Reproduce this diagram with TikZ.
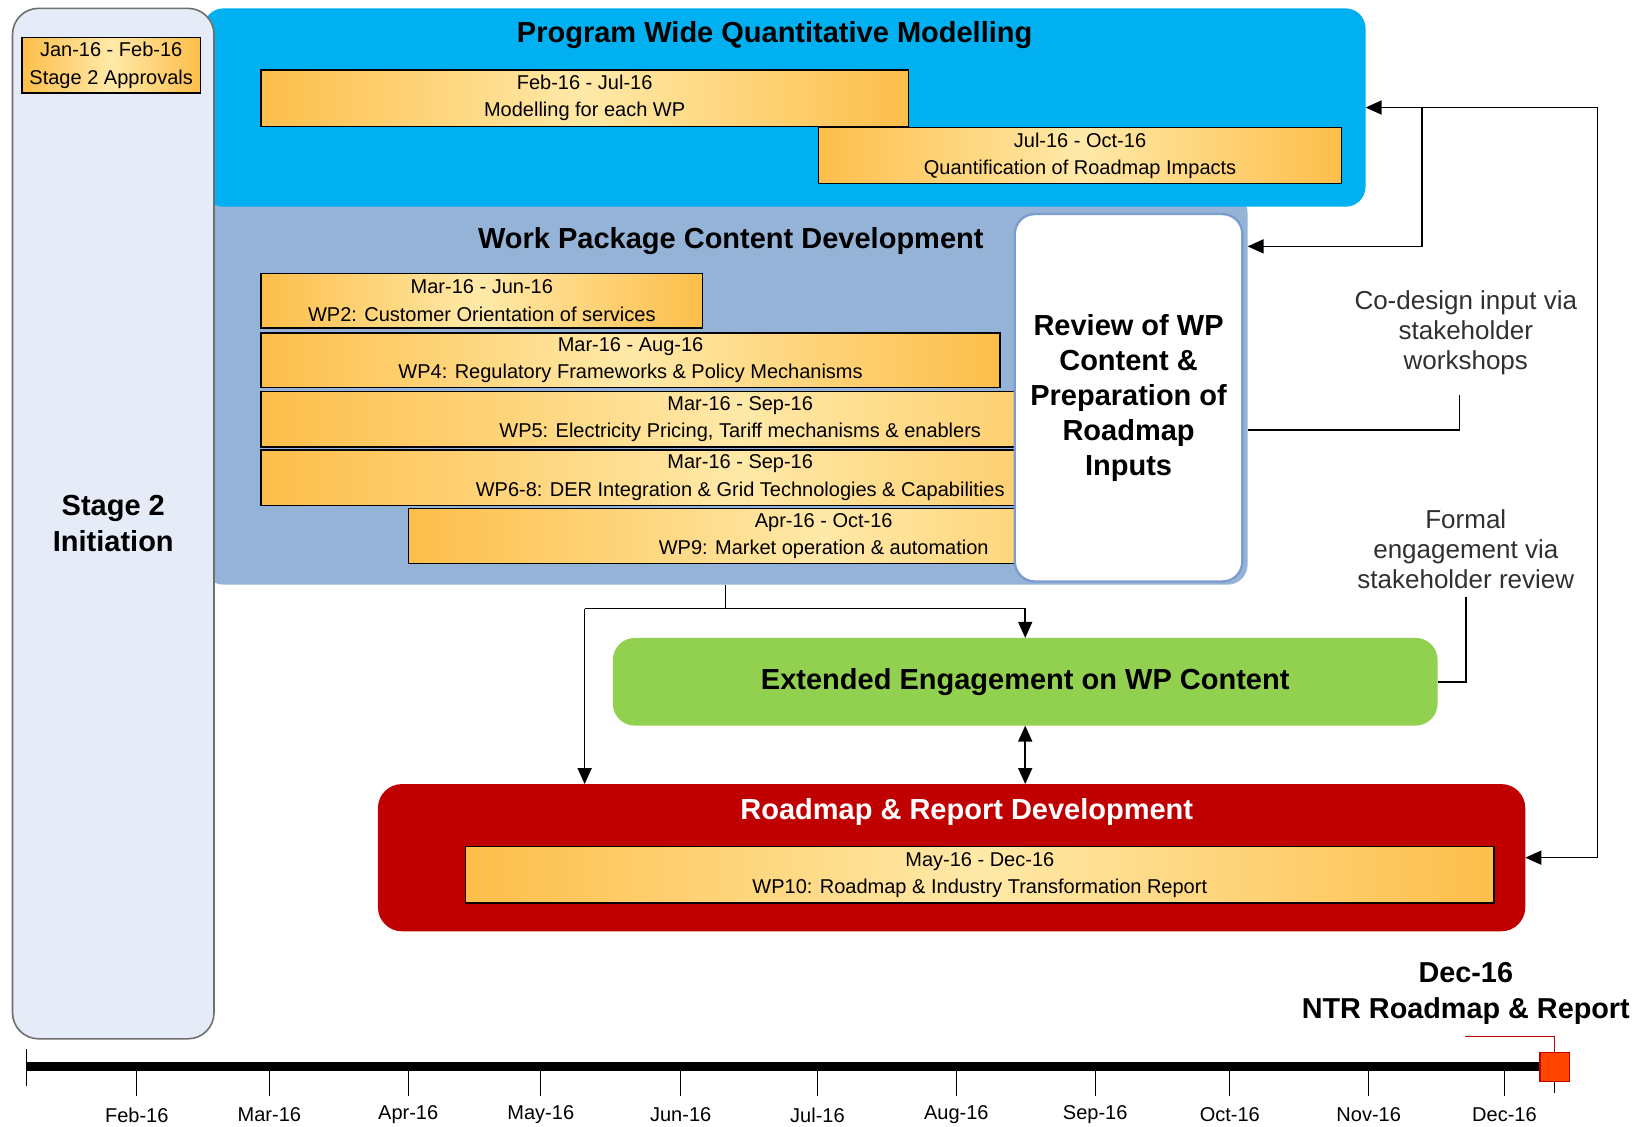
\documentclass[tikz,border=0pt]{standalone}
\usepackage{fontspec}
\setmainfont{Liberation Sans}
\usetikzlibrary{arrows.meta}
\definecolor{stagefill}{HTML}{E6ECF7}
\definecolor{stagedraw}{HTML}{6F6F6F}
\definecolor{pwblue}{HTML}{00B0F0}
\definecolor{wpblue}{HTML}{95B3D7}
\definecolor{orgE}{HTML}{FDBE4A}
\definecolor{orgM}{HTML}{FFE9A8}
\definecolor{revdraw}{HTML}{7C9CD0}
\definecolor{engreen}{HTML}{92D050}
\definecolor{rdred}{HTML}{C00000}
\definecolor{msfill}{HTML}{FF4500}
\definecolor{notegrey}{HTML}{303030}
\newcommand\myfs[2]{\fontsize{#1}{#2}\selectfont}
% \abox{name}{style}{x1}{y1}{x2}{y2}{text}
\newcommand\abox[7]{\node[#2, inner sep=0pt, outer sep=0pt,
   minimum width={(#5-#3)*0.522pt}, minimum height={(#6-#4)*0.522pt}]
   (#1) at ({(#3+#5)/2},{(#4+#6)/2}) {#7};}
\begin{document}
\begin{tikzpicture}[x=0.522pt,y=-0.522pt,
  bar/.style={draw=black, line width=0.7pt, left color=orgE, right color=orgE, middle color=orgM, align=center, font=\myfs{10}{13.6}},
  title/.style={font=\bfseries\myfs{14.5}{17}, align=center},
  arr/.style={-{Triangle[length=8pt,width=7pt]}, line width=0.8pt},
  arrtwo/.style={{Triangle[length=8pt,width=7pt]}-{Triangle[length=8pt,width=7pt]}, line width=0.8pt},
  plain/.style={line width=0.8pt},
  note/.style={font=\myfs{13}{15}, text=notegrey, align=center},
  tick/.style={line width=0.6pt},
  month/.style={font=\myfs{10}{12}}
]
\useasboundingbox (0,0) rectangle (1568,1079);

% background panels
\abox{wp}{fill=wpblue, rounded corners=10pt}{195}{185}{1195}{560}{}
\abox{pw}{fill=pwblue, rounded corners=10pt}{195}{8}{1308}{198}{}
\abox{stage}{fill=stagefill, draw=stagedraw, line width=0.8pt, rounded corners=13pt, font=\bfseries\myfs{14.5}{17.7}, align=center}{12}{8}{205}{995}{Stage 2\\Initiation}

\abox{jan}{bar}{21}{36}{192}{89}{Jan-16 - Feb-16\\Stage 2 Approvals}

% Program wide quantitative modelling
\node[title] (pwtitle) at (742,34) {Program Wide Quantitative Modelling};
\abox{m1}{bar}{250}{67}{870}{121}{Feb-16 - Jul-16\\Modelling for each WP}
\abox{m2}{bar}{784}{122}{1285}{176}{Jul-16 - Oct-16\\Quantification of Roadmap Impacts}

% Work package content development
\node[title] (wptitle) at (700,231) {Work Package Content Development};
\abox{wp2}{bar}{250}{262}{673}{314}{Mar-16 - Jun-16\\WP2: Customer Orientation of services}
\abox{wp4}{bar}{250}{319}{958}{371}{Mar-16 - Aug-16\\WP4: Regulatory Frameworks \& Policy Mechanisms}
\abox{wp5}{bar}{250}{375}{1168}{428}{Mar-16 - Sep-16\\WP5: Electricity Pricing, Tariff mechanisms \& enablers}
\abox{wp68}{bar}{250}{431}{1168}{484}{Mar-16 - Sep-16\\WP6-8: DER Integration \& Grid Technologies \& Capabilities}
\abox{wp9}{bar}{391}{487}{1187}{540}{Apr-16 - Oct-16\\WP9: Market operation \& automation}

\abox{review}{fill=white, draw=revdraw, line width=1.2pt, rounded corners=10pt, font=\bfseries\myfs{14.5}{17.5}, align=center}{972}{205}{1190}{557}{Review of WP\\Content \&\\Preparation of\\Roadmap\\Inputs}

% engagement and roadmap
\abox{green}{fill=engreen, rounded corners=11pt, font=\bfseries\myfs{14.5}{17}}{587}{611}{1377}{695}{Extended Engagement on WP Content}
\abox{red}{fill=rdred, rounded corners=12pt}{362}{751}{1461}{892}{}
\node[title, text=white] (redtitle) at (926,778) {Roadmap \& Report Development};
\abox{wp10}{bar}{446}{811}{1431}{865}{May-16 - Dec-16\\WP10: Roadmap \& Industry Transformation Report}

% notes
\node[note] (codesign) at (1404,319) {Co-design input via\\stakeholder\\workshops};
\node[note] (formal) at (1404,526) {Formal\\engagement via\\stakeholder review};

% connectors
\coordinate (jl) at (560,583);
\coordinate (jr) at (982,583);
\draw[plain] (wp.south) -- (wp.south |- jl);
\draw[arr] (jl) -- (jr) -- (jr |- green.north);
\draw[arr] (jl) -- (jl |- red.north);
\draw[arrtwo] (green.south) -- (green.south |- red.north);

\coordinate (rx) at (1530,103);
\draw[arrtwo] (pw.east) -- (rx) |- (red.east);
\coordinate (bx) at (1362,103);
\coordinate (bxl) at (1362,236);
\draw[arr] (bx) -- (bxl) -- (wp.east |- bxl);

\coordinate (cdtop) at (1398,378);
\coordinate (cdbend) at (1398,412);
\draw[plain] (cdtop) -- (cdbend) -- (wp.east |- cdbend);

\coordinate (fmtop) at (1404,572);
\draw[plain] (fmtop) |- (green.east);

% timeline
\node[draw=rdred, fill=msfill, line width=0.6pt, inner sep=0pt, minimum width=14.6pt, minimum height=14.6pt] (ms) at (1489,1022) {};
\coordinate (t0) at (25,1022);
\draw[line width=4.5pt] (t0) -- (ms.west);
\draw[tick] (25,1005) -- (25,1040);
\foreach \x/\m [count=\i] in {131/Feb-16, 258/Mar-16, 391/Apr-16, 518/May-16, 652/Jun-16, 783/Jul-16, 916/Aug-16, 1049/Sep-16, 1178/Oct-16, 1311/Nov-16, 1441/Dec-16}{
  \draw[tick] (\x,1022) -- (\x,1050);
  \node[month] (mon\i) at (\x,1068) {\m};
}
\draw[tick] (ms.south) -- ++(0,10);
\coordinate (rl) at (1403,993);
\draw[draw=rdred, line width=0.7pt] (ms.north) |- (rl);
\node[font=\bfseries\myfs{14.4}{16}] (dec) at (1404,932) {Dec-16};
\node[font=\bfseries\myfs{14.4}{16}] (ntr) at (1404,968) {NTR Roadmap \& Report};
\end{tikzpicture}
\end{document}
